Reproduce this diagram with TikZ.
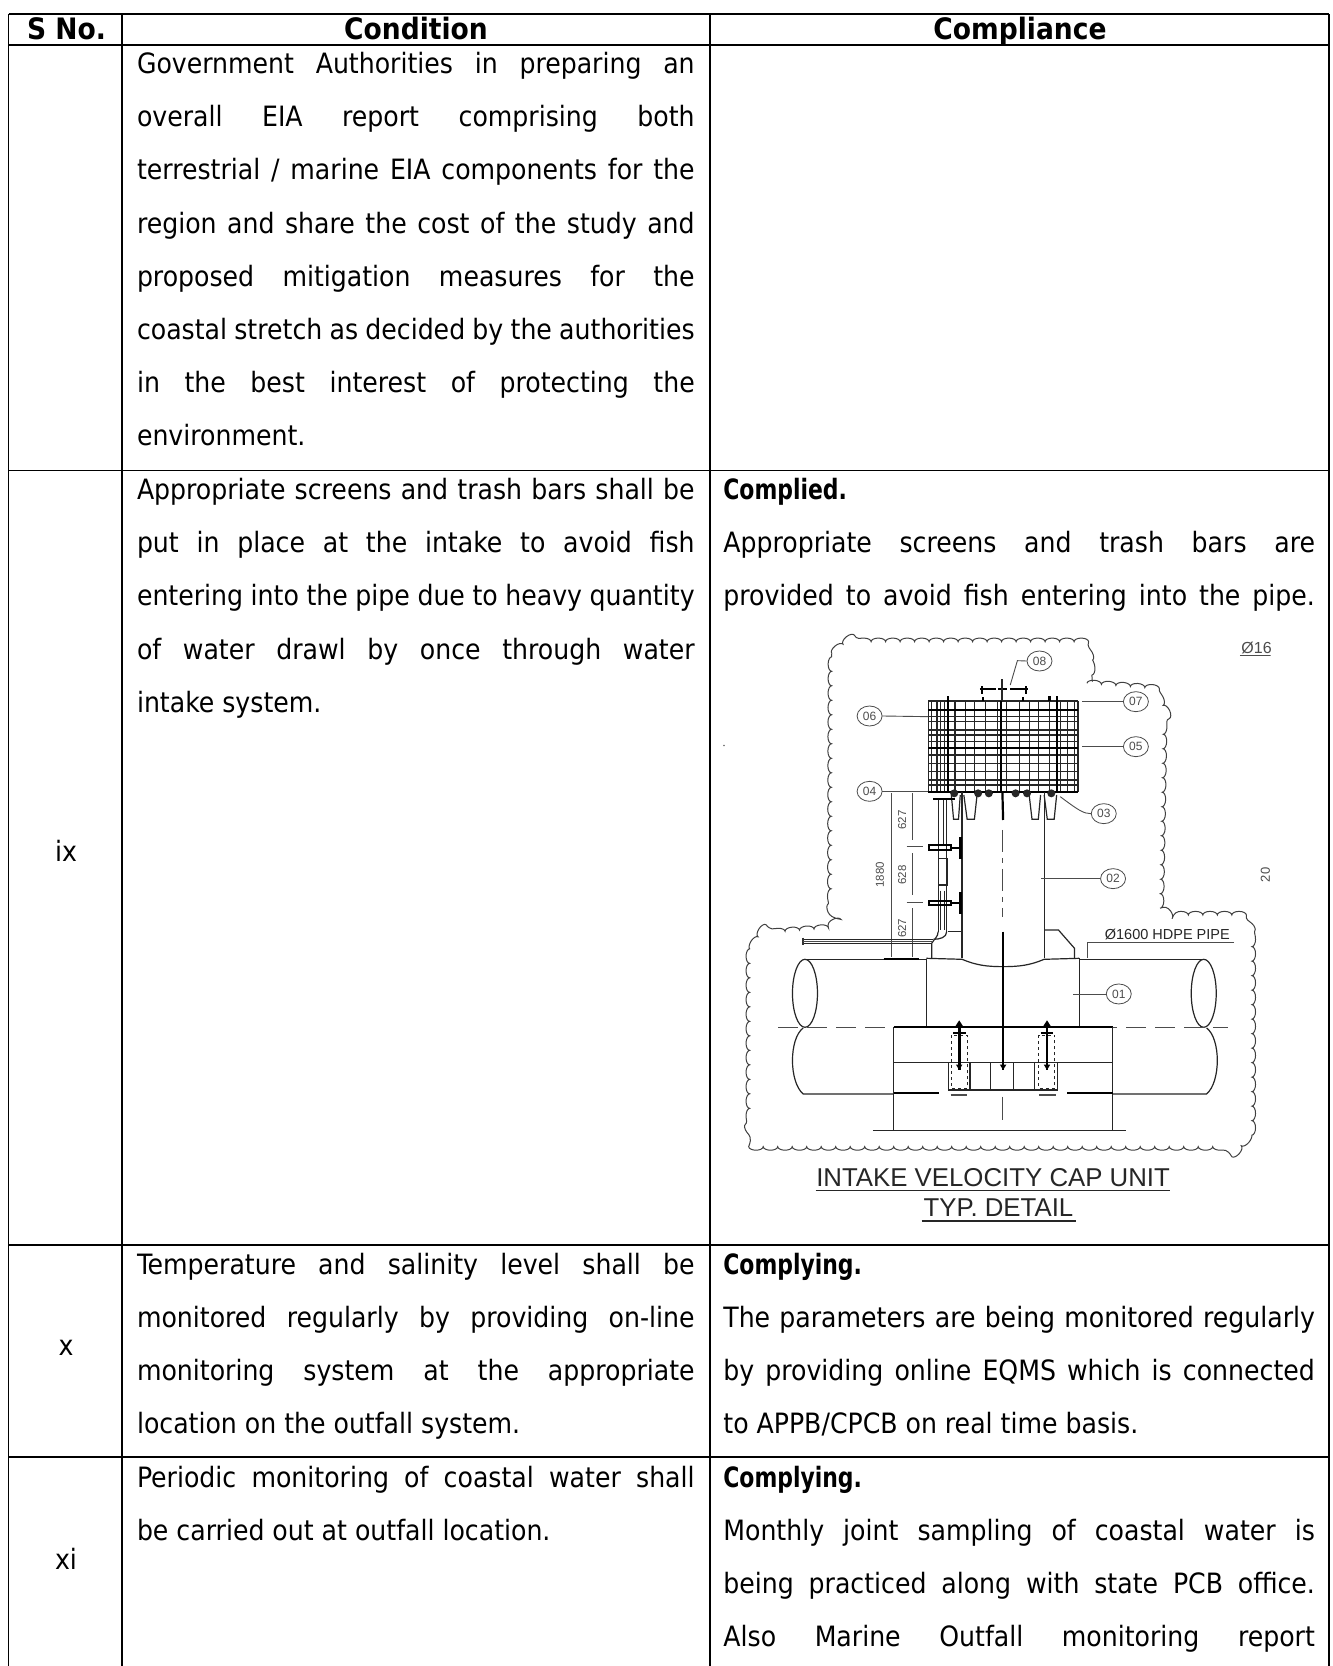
\documentclass[tikz,border=0pt]{standalone}
\usepackage{fontspec}
\usetikzlibrary{decorations.pathmorphing,arrows.meta,shapes.geometric}
\setmainfont{DejaVu Sans Condensed}
\newfontfamily\drawfont{Liberation Sans}
\newcommand{\bfs}{\fontsize{28}{30}\selectfont}
\newcommand{\colBj}[3]{\node[txt] (#1) at (137,{1.0622*(#2)+10}) {\makebox[557.7pt][s]{#3}};}
\newcommand{\colBl}[3]{\node[txt] (#1) at (137,{1.0622*(#2)+10}) {#3};}
\newcommand{\colCj}[3]{\node[txt] (#1) at (723.4,{1.0622*(#2)+10}) {\makebox[591.6pt][s]{#3}};}
\newcommand{\colCl}[3]{\node[txt] (#1) at (723.4,{1.0622*(#2)+10}) {#3};}
\newcommand{\lead}[1]{\scalebox{0.87}[1]{\bfseries #1}}
\tikzset{
  txt/.style={anchor=base west,inner sep=0pt,outer sep=0pt,font=\bfs},
  hdr/.style={anchor=base,inner sep=0pt,font=\fontsize{29.5}{30}\selectfont\bfseries},
  rule/.style={line width=1.8pt,black},
  drw/.style={line width=1.2pt,black!85},
  thn/.style={line width=0.9pt,black!70},
  thk/.style={line width=2.2pt,black},
  cloud/.style={line width=1pt,black!75,decorate,decoration={bumps,segment length=29pt,amplitude=3.6pt}},
  tag/.style={draw=black!70,line width=0.8pt,ellipse,minimum width=25pt,minimum height=20pt,inner sep=0pt,text=black!70,font=\drawfont\fontsize{12}{12}\selectfont},
  dim/.style={inner sep=0pt,text=black!70,font=\drawfont\fontsize{11.5}{11.5}\selectfont},
  ttl/.style={inner sep=0pt,anchor=base,text=black!85,font=\drawfont\fontsize{25.8}{26}\selectfont},
  zoomed/.style={shift={(730,620)},x=0.357pt,y=-0.3333pt}
}
\begin{document}
\begin{tikzpicture}[x=1pt,y=-1pt]
\useasboundingbox (0,0) rectangle (1333,1666);
\fill[white] (0,0) rectangle (1333,1666);
% table rules
\draw[rule] (8.5,14) -- (1329,14);
\draw[rule] (8.5,45) -- (1329,45);
\draw[rule] (8.5,470.5) -- (1329,470.5);
\draw[rule] (8.5,1245) -- (1329,1245);
\draw[rule] (8.5,1457) -- (1329,1457);
\foreach \xx in {8.5,122,710,1329} \draw[rule] (\xx,14) -- (\xx,1666);
% header
\node[hdr] (h1) at (66.5,39) {S No.};
\node[hdr] (h2) at (416,39) {Condition};
\node[hdr] (h3) at (1020,39) {Compliance};
% serial numbers
\node[txt,anchor=base] (s1) at (66,861) {ix};
\node[txt,anchor=base] (s2) at (66,1355) {x};
\node[txt,anchor=base] (s3) at (66,1569) {xi};
% row continuing
\colBj{a1}{60}{Government Authorities in preparing an}
\colBj{a2}{110}{overall EIA report comprising both}
\colBj{a3}{160}{terrestrial / marine EIA components for the}
\colBj{a4}{210}{region and share the cost of the study and}
\colBj{a5}{260}{proposed mitigation measures for the}
\colBj{a6}{310}{coastal stretch as decided by the authorities}
\colBj{a7}{360}{in the best interest of protecting the}
\colBl{a8}{410}{environment.}
% row ix
\colBj{b1}{461}{Appropriate screens and trash bars shall be}
\colBj{b2}{511}{put in place at the intake to avoid fish}
\colBj{b3}{561}{entering into the pipe due to heavy quantity}
\colBj{b4}{611}{of water drawl by once through water}
\colBl{b5}{661}{intake system.}
\colCl{c1}{461}{\lead{Complied.}}
\colCj{c2}{511}{Appropriate screens and trash bars are}
\colCj{c3}{561}{provided to avoid fish entering into the pipe.}
% row x
\colBj{d1}{1190}{Temperature and salinity level shall be}
\colBj{d2}{1240}{monitored regularly by providing on-line}
\colBj{d3}{1290}{monitoring system at the appropriate}
\colBl{d4}{1340}{location on the outfall system.}
\colCl{e1}{1190}{\lead{Complying.}}
\colCj{e2}{1240}{The parameters are being monitored regularly}
\colCj{e3}{1290}{by providing online EQMS which is connected}
\colCl{e4}{1340}{to APPB/CPCB on real time basis.}
% row xi
\colBj{f1}{1391}{Periodic monitoring of coastal water shall}
\colBl{f2}{1441}{be carried out at outfall location.}
\colCl{g1}{1391}{\lead{Complying.}}
\colCj{g2}{1441}{Monthly joint sampling of coastal water is}
\colCj{g3}{1491}{being practiced along with state PCB office.}
\colCj{g4}{1541}{Also Marine Outfall monitoring report}
% ---------- drawing
\begin{scope}[zoomed]
% cloud
\draw[cloud] (285,100) -- (325,65) -- (985,65) -- (1010,110) -- (1015,185);
\draw[cloud] (1000,190) -- (1190,205) -- (1215,260) -- (1205,850) -- (1230,885) -- (1420,885) -- (1462,925) -- (1462,1540) -- (1430,1580) -- (90,1580) -- (55,1530) -- (55,990) -- (85,940) -- (260,925) -- (298,905) -- (283,870) -- (285,100);
% grid
\foreach \xx in {555,565,580,590,600,630,660,685,715,750,775,810,840,865,895,925,945,965,975}
  \draw[drw] (\xx,243) -- (\xx,515);
\foreach \yy in {243,290,305,330,345,365,405,430,455,480,495}
  \draw[drw] (555,\yy) -- (975,\yy);
\foreach \yy in {270,385,515} \draw[thk] (555,\yy) -- (975,\yy);
\foreach \xx/\ya/\yb in {610/228/515,760/243/515,915/228/515} \draw[thk] (\xx,\ya) -- (\xx,\yb);
\draw[thk] (895,228) -- (895,243);
% bracket
\draw[thk] (700,207) -- (745,207) (785,207) -- (835,207) (752,207) -- (775,207);
\draw[thk] (706,198) -- (706,222) (828,198) -- (828,222) (708,232) -- (708,243) (820,232) -- (820,243);
\draw[drw] (762,178) -- (762,243);
% blobs and cones
\foreach \xx in {628,695,725,800,832,900} \fill[black!85] (\xx,520) circle (4pt);
\foreach \a/\b in {620/645,655/692,838/870,880/915}
  \draw[drw] (\a,525) -- ({\a+(\b-\a)*0.25},598) -- ({\a+(\b-\a)*0.8},598) -- (\b,525);
% centre and pipe
\draw[thk] (763,515) -- (765,600);
\draw[thn,dash pattern=on 22pt off 6pt on 5pt off 6pt] (762,630) -- (762,890);
\draw[drw] (650,515) -- (650,1015) (880,515) -- (880,1015);
\draw[thk] (570,536) -- (630,536);
% small pipe
\draw[drw] (583,540) -- (583,715) (597,540) -- (597,675) (607,540) -- (607,715);
\draw[drw] (583,715) rectangle (608,795);
\draw[drw] (583,795) -- (583,935) (607,795) -- (607,935);
\draw[drw] (590,812) -- (590,930) (600,812) -- (600,930);
\foreach \yy in {683,849} {
  \draw[thk] (557,{\yy-7}) rectangle (620,{\yy+7});
  \draw[thk] (620,\yy) -- (645,\yy);
  \draw[line width=3pt] (647,{\yy-33}) -- (647,{\yy+33});
}
% dimensions
\draw[thn] (452,520) -- (452,1010) (512,520) -- (512,660) (512,700) -- (512,825) (512,865) -- (512,1010);
\draw[thn] (495,680) -- (540,680) (495,847) -- (540,847);
\node[dim,rotate=90] (d627a) at (482,600) {627};
\node[dim,rotate=90] (d628) at (482,765) {628};
\node[dim,rotate=90] (d1880) at (420,765) {1880};
\node[dim,rotate=90] (d627b) at (482,925) {627};
% side pipe
\draw[drw] (205,958) -- (570,958) (205,970) -- (565,970);
\draw[line width=1.6pt,black!80] (205,953) -- (205,974);
\draw[line width=1.6pt,black!70] (205,964) -- (565,964);
\draw[drw] (583,935) to[out=270,in=60] (565,970) -- (565,1014);
\draw[drw] (607,935) to[out=270,in=0] (570,958);
\draw[drw] (610,935) -- (650,935);
% gusset
\draw[drw] (880,930) -- (920,930) -- (965,985) -- (965,1015);
% pipe main
\draw[drw] (205,1018) -- (550,1018) (978,1018) -- (1330,1018);
\draw[thk] (430,1016) -- (530,1016);
\draw[drw] (550,1015) -- (650,1018) .. controls (690,1036) and (720,1040) .. (765,1040) .. controls (810,1040) and (840,1036) .. (880,1018) -- (978,1015);
\draw[drw] (550,1016) -- (550,1220) (978,1015) -- (978,1220);
\draw[drw] (210,1120) ellipse (12.5pt and 34pt);
\draw[drw] (1327,1120) ellipse (12.5pt and 34pt);
\draw[thn,dash pattern=on 20pt off 9pt] (135,1221) -- (1395,1221);
\draw[drw] (205,1224) .. controls (165,1256) and (165,1386) .. (205,1422) -- (458,1422);
\draw[drw] (1335,1224) .. controls (1375,1256) and (1375,1386) .. (1335,1422) -- (1072,1422);
% base block
\draw[thk] (458,1222) -- (1072,1222);
\draw[drw] (458,1222) -- (458,1532) (1072,1222) -- (1072,1532);
\draw[drw] (458,1328) -- (612,1328) (672,1328) -- (730,1328) (795,1328) -- (852,1328) (918,1328) -- (1072,1328);
\draw[drw] (612,1410) -- (918,1410);
\draw[drw] (400,1532) -- (1110,1532);
\draw[thk] (458,1420) -- (585,1420) (945,1420) -- (1072,1420);
\draw[line width=2.5pt,black!70] (618,1425) -- (665,1425) (865,1425) -- (912,1425);
\draw[drw] (612,1328) rectangle (672,1410) (730,1328) rectangle (795,1410) (852,1328) rectangle (918,1410);
\draw[drw,dashed] (620,1246) rectangle (665,1405) (865,1246) rectangle (910,1405);
\draw[thn] (762,1430) -- (762,1501);
% rods
\foreach \xx/\ya in {642/1211,888/1211,765/935} {
  \draw[line width=2.6pt,black] (\xx,\ya) -- (\xx,1350);
  \fill (\xx,1350) -- ({\xx-9},1334) -- ({\xx+9},1334) -- cycle;
}
\fill (642,1201) -- (630,1221) -- (654,1221) -- cycle;
\fill (888,1201) -- (876,1221) -- (900,1221) -- cycle;
\draw[thk] (625,1239) -- (660,1239) (870,1239) -- (905,1239);
% tags and leaders
\node[tag] (n08) at (867,123) {08};
\node[tag] (n06) at (391,288) {06};
\node[tag] (n04) at (391,514) {04};
\node[tag] (n07) at (1137,245) {07};
\node[tag] (n05) at (1137,380) {05};
\node[tag] (n03) at (1047,581) {03};
\node[tag] (n02) at (1073,776) {02};
\node[tag] (n01) at (1089,1122) {01};
\coordinate (p08) at (785,195);
\coordinate (p06) at (555,290);
\coordinate (p04) at (555,514);
\coordinate (p07) at (985,245);
\coordinate (p05) at (985,380);
\coordinate (p03) at (925,530);
\coordinate (p02) at (870,776);
\coordinate (p01) at (960,1122);
\draw[thn] (n08.west) -- (805,122) -- (p08);
\draw[thn] (n06.east) -- (p06);
\draw[thn] (n04.east) -- (p04);
\draw[thn] (n07.west) -- (p07);
\draw[thn] (n05.west) -- (p05);
\draw[thn] (n03.west) .. controls (990,581) and (975,570) .. (p03);
\draw[thn] (n02.west) -- (p02);
\draw[thn] (n01.west) -- (p01);
% pipe label
\node[ttl,anchor=center,font=\drawfont\fontsize{14.5}{15}\selectfont] (pipe) at (1225,943) {Ø1600 HDPE PIPE};
\coordinate (q1) at (1412,968);
\coordinate (q2) at (1000,1015);
\draw[thn] (q1) -- (1000,968) -- (q2);
% titles
\node[ttl] (title1) at (737,1700) {INTAKE VELOCITY CAP UNIT};
\draw[drw] (240,1712) -- (1233,1712);
\node[ttl] (title2) at (752,1790) {TYP. DETAIL};
\draw[drw] (537,1803) -- (968,1803);
% clipped fragments
\begin{scope}
\clip (1400,40) rectangle (1514,900);
\node[dim,anchor=west,font=\drawfont\fontsize{16}{16}\selectfont] (dia) at (1432,85) {Ø1600};
\draw[thn] (1428,106) -- (1514,106);
\node[dim,rotate=90,font=\drawfont\fontsize{13}{13}\selectfont] (twenty) at (1500,765) {20};
\end{scope}
\end{scope}
\fill[black!60] (724,745.5) circle (0.9pt);
\end{tikzpicture}
\end{document}
